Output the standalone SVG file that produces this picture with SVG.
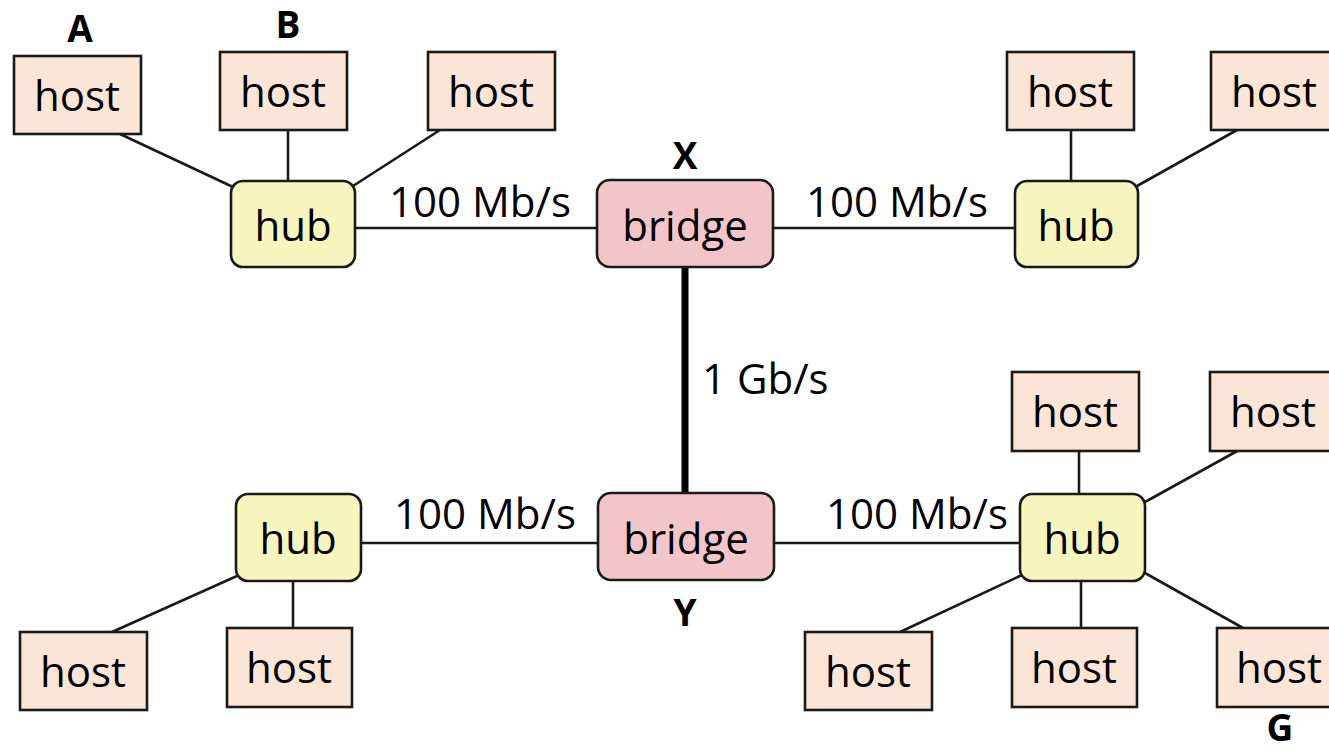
<svg xmlns="http://www.w3.org/2000/svg" width="1329" height="756" viewBox="0 0 1329 756">
<style>
.host{fill:#FBE5D6;stroke:#1a1a1a;stroke-width:2.6}
.hub{fill:#F6F5BD;stroke:#1a1a1a;stroke-width:2.6}
.bridge{fill:#F2C6C9;stroke:#1a1a1a;stroke-width:2.6}
.t{font-family:"Open Sans","DejaVu Sans",sans-serif;font-size:42px;fill:#000;text-anchor:middle}
.lbl{font-family:"Open Sans","DejaVu Sans",sans-serif;font-size:42px;fill:#000}
.b{font-family:"Open Sans","DejaVu Sans",sans-serif;font-size:37px;font-weight:bold;fill:#000;text-anchor:middle}
.c{stroke:#1a1a1a;stroke-width:2.6;fill:none}
</style>
<rect width="1329" height="756" fill="#fff"/>
<g id="connectors">
<line class="c" x1="120" y1="134" x2="233" y2="187"/>
<line class="c" x1="288" y1="130" x2="288" y2="181"/>
<line class="c" x1="353" y1="186" x2="440" y2="130"/>
<line class="c" x1="355" y1="228" x2="597" y2="228"/>
<line class="c" x1="773" y1="228" x2="1015" y2="228"/>
<line class="c" x1="1071" y1="130" x2="1071" y2="181"/>
<line class="c" x1="1137" y1="186" x2="1237" y2="130"/>
<line x1="685" y1="267" x2="685" y2="493" stroke="#000" stroke-width="7"/>
<line class="c" x1="361" y1="543" x2="598" y2="543"/>
<line class="c" x1="774" y1="543" x2="1020" y2="543"/>
<line class="c" x1="237" y1="576" x2="112" y2="632"/>
<line class="c" x1="293" y1="581" x2="293" y2="628"/>
<line class="c" x1="1079" y1="451" x2="1079" y2="494"/>
<line class="c" x1="1145" y1="502" x2="1239" y2="450"/>
<line class="c" x1="1081" y1="581" x2="1081" y2="628"/>
<line class="c" x1="1145" y1="573" x2="1243" y2="628"/>
<line class="c" x1="1022" y1="575" x2="900" y2="632"/>
<text class="lbl" x="480" y="217" text-anchor="middle">100 Mb/s</text>
<text class="lbl" x="897" y="217" text-anchor="middle">100 Mb/s</text>
<text class="lbl" x="485" y="529" text-anchor="middle">100 Mb/s</text>
<text class="lbl" x="917" y="529" text-anchor="middle">100 Mb/s</text>
<text class="lbl" x="702" y="394">1 Gb/s</text>
</g>
<g id="hostA"><rect class="host" x="14" y="56" width="127" height="78"/><text class="t" x="77" y="111">host</text><text class="b" x="80" y="42">A</text></g>
<g id="hostB"><rect class="host" x="220" y="52" width="127" height="78"/><text class="t" x="283" y="107">host</text><text class="b" x="288" y="38">B</text></g>
<g id="hostC"><rect class="host" x="428" y="52" width="127" height="78"/><text class="t" x="491" y="107">host</text></g>
<g id="hubTL"><rect class="hub" x="231" y="181" width="124" height="86" rx="12"/><text class="t" x="293" y="241">hub</text></g>
<g id="bridgeX"><rect class="bridge" x="597" y="180" width="176" height="87" rx="13"/><text class="t" x="685" y="241">bridge</text><text class="b" x="685" y="169">X</text></g>
<g id="hubTR"><rect class="hub" x="1015" y="181" width="123" height="86" rx="12"/><text class="t" x="1076" y="241">hub</text></g>
<g id="hostTR1"><rect class="host" x="1007" y="52" width="127" height="78"/><text class="t" x="1070" y="107">host</text></g>
<g id="hostTR2"><rect class="host" x="1211" y="52" width="127" height="78"/><text class="t" x="1274" y="107">host</text></g>
<g id="bridgeY"><rect class="bridge" x="598" y="493" width="176" height="87" rx="13"/><text class="t" x="686" y="554">bridge</text><text class="b" x="685" y="626">Y</text></g>
<g id="hubBL"><rect class="hub" x="236" y="494" width="125" height="87" rx="12"/><text class="t" x="298" y="554">hub</text></g>
<g id="hostBL1"><rect class="host" x="20" y="632" width="127" height="78"/><text class="t" x="83" y="687">host</text></g>
<g id="hostBL2"><rect class="host" x="227" y="628" width="125" height="79"/><text class="t" x="289" y="683">host</text></g>
<g id="hubBR"><rect class="hub" x="1020" y="494" width="125" height="87" rx="12"/><text class="t" x="1082" y="554">hub</text></g>
<g id="hostBR1"><rect class="host" x="1012" y="372" width="127" height="79"/><text class="t" x="1075" y="427">host</text></g>
<g id="hostBR2"><rect class="host" x="1210" y="372" width="127" height="79"/><text class="t" x="1273" y="427">host</text></g>
<g id="hostBR3"><rect class="host" x="805" y="632" width="127" height="78"/><text class="t" x="868" y="687">host</text></g>
<g id="hostBR4"><rect class="host" x="1012" y="628" width="125" height="79"/><text class="t" x="1074" y="683">host</text></g>
<g id="hostG"><rect class="host" x="1217" y="628" width="127" height="79"/><text class="t" x="1279" y="683">host</text><text class="b" x="1280" y="741">G</text></g>
</svg>
